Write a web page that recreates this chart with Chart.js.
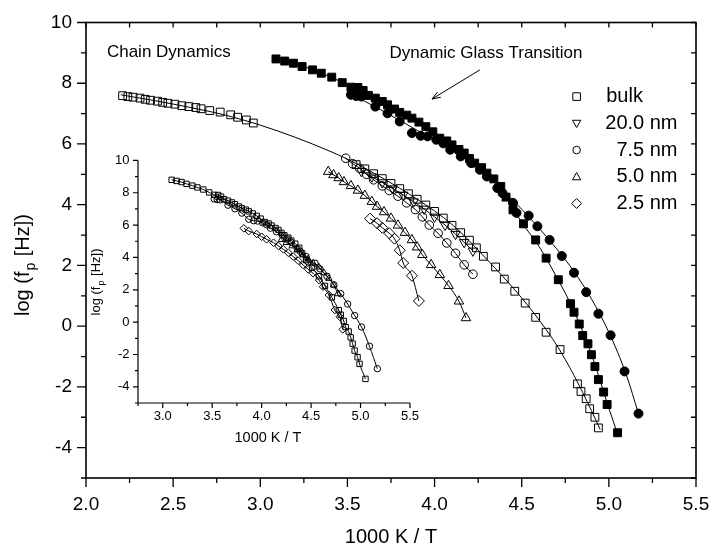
<!DOCTYPE html>
<html>
<head>
<meta charset="utf-8">
<script src="https://cdn.jsdelivr.net/npm/chart.js@4/dist/chart.umd.min.js"></script>
<style>
  body { margin: 0; background: #fff; }
  #wrap { position: relative; width: 714px; height: 553px; }
  #main { position: absolute; left: 0; top: 0; }
  #inset { position: absolute; left: 80px; top: 150px; }
</style>
</head>
<body>
<div id="wrap">
  <canvas id="main" width="714" height="553"></canvas>
  <canvas id="inset" width="345" height="300"></canvas>
</div>
<script>
const FONT = '"Liberation Sans", Arial, Helvetica, sans-serif';

// ---- main plot data (1000K/T, log f_p) ----
// bulk, open squares: chain dynamics + dynamic glass transition
const bulkX = [2.21,2.24,2.27,2.31,2.34,2.37,2.41,2.44,2.47,2.51,2.55,2.59,2.63,2.66,2.71,2.77,2.83,2.87,2.92,2.96,
               3.55,3.60,3.65,3.70,3.75,3.80,3.85,3.90,3.95,4.00,4.05,4.10,4.15,4.20,4.24,4.28,4.35,4.40,4.46,4.52,4.58,4.64,4.72,4.82,4.84,4.87,4.89,4.92,4.94];
const bulkY = [7.59,7.56,7.54,7.51,7.47,7.44,7.41,7.37,7.34,7.31,7.26,7.23,7.20,7.16,7.10,7.05,6.96,6.88,6.79,6.69,
               5.32,5.18,5.02,4.86,4.70,4.53,4.36,4.18,3.99,3.78,3.56,3.32,3.08,2.83,2.58,2.30,1.95,1.55,1.15,0.76,0.29,-0.20,-0.77,-1.90,-2.15,-2.39,-2.72,-3.00,-3.35];
const bulkFitX = [2.2,2.4,2.6,2.8,3.0,3.2,3.4,3.5,3.7,3.9,4.1,4.3,4.5,4.6,4.7,4.8,4.9,4.95];
const bulkFitY = [7.62,7.42,7.2,6.95,6.62,6.22,5.76,5.5,4.88,4.18,3.35,2.2,0.93,0.2,-0.62,-1.62,-2.78,-3.4];

// 20.0 nm, open down triangles
const nm20X = [3.58,3.64,3.70,3.76,3.82,3.88,3.94,4.00,4.06,4.12,4.17,4.22];
const nm20Y = [5.10,4.92,4.73,4.53,4.32,4.10,3.86,3.60,3.33,3.03,2.76,2.48];
// 7.5 nm, open circles
const nm75X = [3.49,3.53,3.57,3.61,3.65,3.70,3.74,3.79,3.84,3.89,3.93,3.97,4.02,4.07,4.12,4.17,4.22];
const nm75Y = [5.53,5.35,5.20,5.00,4.82,4.62,4.47,4.28,4.06,3.84,3.60,3.33,3.06,2.74,2.40,2.02,1.71];
// 5.0 nm, open up triangles
const nm50X = [3.39,3.42,3.45,3.48,3.52,3.56,3.60,3.64,3.67,3.71,3.75,3.79,3.83,3.87,3.90,3.93,3.98,4.03,4.08,4.14,4.18];
const nm50Y = [5.09,4.98,4.88,4.75,4.62,4.47,4.30,4.10,3.94,3.76,3.55,3.32,3.08,2.84,2.60,2.35,2.02,1.69,1.33,0.82,0.27];
// 2.5 nm, open diamonds
const nm25X = [3.63,3.67,3.70,3.74,3.77,3.80,3.82,3.87,3.91];
const nm25Y = [3.54,3.39,3.24,3.06,2.88,2.50,2.08,1.66,0.83];

// filled squares and filled circles (dynamic glass transition)
const glassSqX = [3.09,3.14,3.19,3.24,3.30,3.35,3.41,3.47,3.52,3.56,3.59,3.62,3.66,3.70,3.73,3.77,3.80,3.84,3.87,3.91,3.95,3.99,4.03,4.07,4.10,4.14,4.17,4.20,4.23,4.27,4.30,4.34,4.38,4.41,4.45,4.51,4.58,4.64,4.71,4.78,4.80,4.83,4.85,4.88,4.90,4.92,4.94,4.97,4.99,5.05];
const glassSqY = [8.80,8.73,8.66,8.55,8.44,8.33,8.20,8.02,7.87,7.86,7.76,7.60,7.51,7.40,7.29,7.15,7.04,6.95,6.85,6.72,6.57,6.40,6.19,6.10,5.97,5.82,5.70,5.52,5.37,5.22,5.04,4.85,4.60,4.25,3.83,3.37,2.84,2.24,1.53,0.74,0.46,0.07,-0.31,-0.58,-0.94,-1.33,-1.76,-2.17,-2.58,-3.51];
const glassSqFitX = [3.09,3.3,3.5,3.7,3.9,4.1,4.3,4.4,4.5,4.6,4.7,4.8,4.9,5.0,5.05];
const glassSqFitY = [8.82,8.45,7.95,7.38,6.75,5.98,5.0,4.35,3.42,2.62,1.62,0.5,-0.92,-2.7,-3.55];

const glassCiX = [3.52,3.55,3.58,3.66,3.73,3.80,3.87,3.92,3.96,4.01,4.05,4.09,4.15,4.21,4.26,4.30,4.36,4.39,4.45,4.47,4.54,4.59,4.66,4.73,4.80,4.87,4.94,5.01,5.09,5.17];
const glassCiY = [7.62,7.58,7.56,7.23,7.01,6.74,6.36,6.27,6.25,6.14,6.02,5.81,5.59,5.37,5.15,4.93,4.55,4.38,4.06,3.73,3.64,3.29,2.84,2.31,1.76,1.12,0.41,-0.30,-1.49,-2.88];
const glassCiFitX = [3.5,3.7,3.9,4.1,4.3,4.5,4.7,4.8,4.9,5.0,5.1,5.17];
const glassCiFitY = [7.7,7.1,6.45,5.8,4.95,3.85,2.55,1.8,0.9,-0.2,-1.6,-2.88];

// ---- inset data ----
const insTriX = [4.20,4.25,4.31,4.36,4.42,4.47,4.52,4.58,4.63,4.68,4.73,4.77];
const insTriY = [5.10,4.92,4.71,4.45,4.15,3.90,3.65,3.40,3.05,2.70,2.29,1.75];
const insDiaX = [3.82,3.87,3.95,4.00,4.05,4.12,4.17,4.22,4.27,4.32,4.37,4.42,4.47,4.52,4.58,4.62,4.68,4.74,4.79,4.82];
const insDiaY = [5.80,5.63,5.45,5.28,5.12,4.91,4.71,4.50,4.29,4.05,3.80,3.53,3.27,3.02,2.60,2.19,1.68,0.75,0.33,-0.45];

// ticks / labels
const mainXTicks = [2.0,2.5,3.0,3.5,4.0,4.5,5.0,5.5];
const mainYTicks = [-4,-2,0,2,4,6,8,10];
const insXTicks = [3.0,3.5,4.0,4.5,5.0,5.5];
const insYTicks = [-4,-2,0,2,4,6,8,10];
const legendNames = ['bulk', '20.0 nm', '7.5 nm', '5.0 nm', '2.5 nm'];

function pts(xs, ys) { return xs.map((x, i) => ({x: x, y: ys[i]})); }

const OPEN = 'rgba(0,0,0,0)';
function markers(xs, ys, style, r, opts) {
  return Object.assign({
    data: pts(xs, ys), showLine: false, pointStyle: style, pointRadius: r,
    pointBorderColor: '#000', pointBackgroundColor: OPEN, pointBorderWidth: 1,
    borderColor: '#000', borderWidth: 1, cubicInterpolationMode: 'monotone'
  }, opts || {});
}
function fitLine(xs, ys) {
  return {data: pts(xs, ys), showLine: true, pointRadius: 0, borderColor: '#000',
          borderWidth: 1, cubicInterpolationMode: 'monotone'};
}

function drawYTitle(ctx, cx, cy, size) {
  const big = size + 'px ' + FONT, small = Math.round(size * 0.68) + 'px ' + FONT;
  ctx.save();
  ctx.translate(cx, cy);
  ctx.rotate(-Math.PI / 2);
  ctx.fillStyle = '#000';
  ctx.textBaseline = 'alphabetic';
  ctx.font = big;
  const wa = ctx.measureText('log (f').width, wc = ctx.measureText(' [Hz])').width;
  ctx.font = small;
  const wb = ctx.measureText('p').width;
  const x0 = -(wa + wb + wc + 2) / 2;
  ctx.font = big;  ctx.fillText('log (f', x0, 0);
  ctx.font = small; ctx.fillText('p', x0 + wa + 1, size * 0.3);
  ctx.font = big;  ctx.fillText(' [Hz])', x0 + wa + wb + 2, 0);
  ctx.restore();
}

function symbol(ctx, kind, x, y, r) {
  ctx.beginPath();
  if (kind === 'sq') ctx.rect(x - r, y - r, 2 * r, 2 * r);
  else if (kind === 'ci') ctx.arc(x, y, r, 0, Math.PI * 2);
  else if (kind === 'up') { ctx.moveTo(x, y - r * 1.1); ctx.lineTo(x + r * 1.1, y + r * 0.8); ctx.lineTo(x - r * 1.1, y + r * 0.8); ctx.closePath(); }
  else if (kind === 'dn') { ctx.moveTo(x, y + r * 1.1); ctx.lineTo(x + r * 1.1, y - r * 0.8); ctx.lineTo(x - r * 1.1, y - r * 0.8); ctx.closePath(); }
  else if (kind === 'di') { ctx.moveTo(x, y - r * 1.3); ctx.lineTo(x + r * 1.3, y); ctx.lineTo(x, y + r * 1.3); ctx.lineTo(x - r * 1.3, y); ctx.closePath(); }
  ctx.stroke();
}

// frame, minor ticks, annotations, legend, axis titles of the big plot
const mainDecor = {
  id: 'mainDecor',
  afterDraw(chart) {
    const {ctx, chartArea: a, scales: {x, y}} = chart;
    ctx.save();
    ctx.strokeStyle = '#000';
    ctx.lineWidth = 1.6;
    ctx.strokeRect(a.left, a.top, a.right - a.left, a.bottom - a.top);
    ctx.lineWidth = 1.3;
    ctx.beginPath();
    for (let k = 0; k <= 14; k++) {
      const v = 2 + k * 0.25, px = x.getPixelForValue(v);
      ctx.moveTo(px, a.bottom); ctx.lineTo(px, a.bottom + (k % 2 === 0 ? 9 : 5));
      ctx.moveTo(px, a.top); ctx.lineTo(px, a.top + 5);
    }
    for (let v = -5; v <= 10; v++) {
      const py = y.getPixelForValue(v);
      ctx.moveTo(a.left, py); ctx.lineTo(a.left - (v % 2 === 0 ? 9 : 5), py);
      ctx.moveTo(a.right, py); ctx.lineTo(a.right - 5, py);
    }
    ctx.stroke();

    ctx.fillStyle = '#000';
    ctx.font = '17px ' + FONT;
    ctx.textBaseline = 'middle';
    ctx.textAlign = 'left';
    ctx.fillText('Chain Dynamics', x.getPixelForValue(2.12), y.getPixelForValue(9.03));
    ctx.textAlign = 'center';
    ctx.fillText('Dynamic Glass Transition', x.getPixelForValue(4.295), y.getPixelForValue(9.0));

    // arrow
    const ax0 = x.getPixelForValue(4.26), ay0 = y.getPixelForValue(8.44);
    const ax1 = x.getPixelForValue(3.985), ay1 = y.getPixelForValue(7.48);
    const ang = Math.atan2(ay1 - ay0, ax1 - ax0);
    ctx.lineWidth = 1;
    ctx.beginPath();
    ctx.moveTo(ax0, ay0); ctx.lineTo(ax1, ay1);
    ctx.moveTo(ax1 - 9 * Math.cos(ang - 0.35), ay1 - 9 * Math.sin(ang - 0.35));
    ctx.lineTo(ax1, ay1);
    ctx.lineTo(ax1 - 9 * Math.cos(ang + 0.35), ay1 - 9 * Math.sin(ang + 0.35));
    ctx.stroke();

    // legend
    const kinds = ['sq', 'dn', 'ci', 'up', 'di'];
    const symX = x.getPixelForValue(4.815), txtRight = x.getPixelForValue(5.394);
    ctx.font = '20px ' + FONT;
    ctx.lineWidth = 1;
    legendNames.forEach((name, i) => {
      const py = y.getPixelForValue(7.56 - i * 0.88);
      symbol(ctx, kinds[i], symX, py, 3.8);
      if (i === 0) { ctx.textAlign = 'left'; ctx.fillText(name, x.getPixelForValue(4.985), py); }
      else { ctx.textAlign = 'right'; ctx.fillText(name, txtRight, py); }
    });

    // axis titles
    ctx.textAlign = 'center';
    ctx.font = '20px ' + FONT;
    ctx.fillText('1000 K / T', (a.left + a.right) / 2, 537);
    ctx.restore();
    drawYTitle(ctx, 29, 265, 20);
  }
};

const insetDecor = {
  id: 'insetDecor',
  afterDraw(chart) {
    const {ctx, chartArea: a, scales: {x, y}} = chart;
    ctx.save();
    ctx.strokeStyle = '#000';
    ctx.lineWidth = 1.2;
    ctx.beginPath();
    ctx.moveTo(a.left, a.top); ctx.lineTo(a.left, a.bottom); ctx.lineTo(a.right, a.bottom);
    for (let k = 0; k <= 11; k++) {
      const px = x.getPixelForValue(2.75 + k * 0.25);
      ctx.moveTo(px, a.bottom); ctx.lineTo(px, a.bottom + (k % 2 === 1 ? 5 : 3));
    }
    for (let v = -5; v <= 10; v++) {
      const py = y.getPixelForValue(v);
      ctx.moveTo(a.left, py); ctx.lineTo(a.left - (v % 2 === 0 ? 5 : 3), py);
    }
    ctx.stroke();
    ctx.fillStyle = '#000';
    ctx.font = '14.5px ' + FONT;
    ctx.textAlign = 'center';
    ctx.textBaseline = 'middle';
    ctx.fillText('1000 K / T', 188, 288);
    ctx.restore();
    drawYTitle(ctx, 20, 132, 13);
  }
};

function linScale(min, max, labels, font, pad, fitProp, fitVal, fmt) {
  return {
    type: 'linear', min: min, max: max,
    grid: {display: false, drawTicks: false},
    border: {display: false},
    afterBuildTicks: s => { s.ticks = labels.map(v => ({value: v})); },
    afterFit: s => {
      s[fitProp] = fitVal;
      s.paddingLeft = 0; s.paddingRight = 0; s.paddingTop = 0; s.paddingBottom = 0;
    },
    ticks: {color: '#000', font: {family: FONT, size: font}, padding: pad, autoSkip: false,
            maxRotation: 0, callback: fmt}
  };
}

new Chart(document.getElementById('main'), {
  type: 'scatter',
  data: {
    datasets: [
      fitLine(bulkFitX, bulkFitY),
      fitLine(glassSqFitX, glassSqFitY),
      fitLine(glassCiFitX, glassCiFitY),
      markers(bulkX, bulkY, 'rect', 5.5),
      markers(nm20X, nm20Y, 'triangle', 5.5, {showLine: true, rotation: 180}),
      markers(nm75X, nm75Y, 'circle', 4.3, {showLine: true}),
      markers(nm50X, nm50Y, 'triangle', 5.5, {showLine: true}),
      markers(nm25X, nm25Y, 'rectRot', 5.5, {showLine: true}),
      markers(glassSqX, glassSqY, 'rect', 5.6, {pointBackgroundColor: '#000'}),
      markers(glassCiX, glassCiY, 'circle', 4.5, {pointBackgroundColor: '#000'})
    ]
  },
  options: {
    responsive: false, animation: false,
    layout: {padding: {left: 0, top: 22.5, right: 18, bottom: 0}},
    plugins: {legend: {display: false}, tooltip: {enabled: false}},
    scales: {
      x: linScale(2, 5.5, mainXTicks, 19, 15, 'height', 75, v => v.toFixed(1)),
      y: linScale(-5, 10, mainYTicks, 19, 14, 'width', 86, v => String(v))
    }
  },
  plugins: [mainDecor]
});

new Chart(document.getElementById('inset'), {
  type: 'scatter',
  data: {
    datasets: [
      markers(glassSqX, glassSqY, 'rect', 3.8, {showLine: true}),
      markers(glassCiX, glassCiY, 'circle', 3.2, {showLine: true}),
      markers(insTriX, insTriY, 'triangle', 3.8, {showLine: true}),
      markers(insDiaX, insDiaY, 'rectRot', 3.8, {showLine: true})
    ]
  },
  options: {
    responsive: false, animation: false,
    layout: {padding: {left: 0, top: 10.4, right: 15, bottom: 0}},
    plugins: {legend: {display: false}, tooltip: {enabled: false}},
    scales: {
      x: linScale(2.75, 5.5, insXTicks, 13, 6, 'height', 47, v => v.toFixed(1)),
      y: linScale(-5, 10, insYTicks, 13, 8.5, 'width', 58, v => String(v))
    }
  },
  plugins: [insetDecor]
});
</script>
</body>
</html>
